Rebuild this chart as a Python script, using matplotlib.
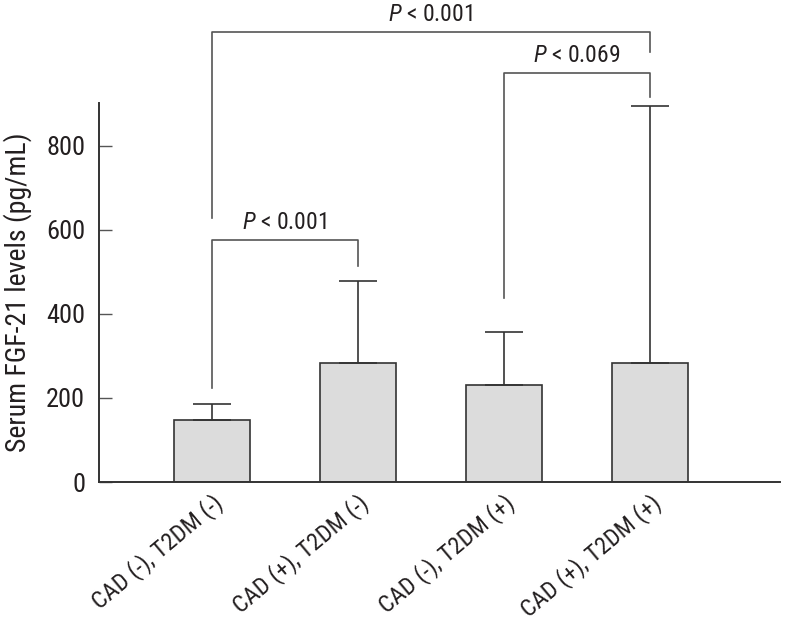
import matplotlib
matplotlib.use('Agg')
import matplotlib.pyplot as plt
import numpy as np

GROUPS = ["CAD (-), T2DM (-)", "CAD (+), T2DM (-)", "CAD (-), T2DM (+)", "CAD (+), T2DM (+)"]
MEANS = [148, 283, 231, 283]
SD = [38, 195, 126, 612]

# brackets: (left bar, right bar), bracket height, left/right leg ends, label
PAIRS = [(0, 1), (2, 3), (0, 3)]
TOPS = [576, 974, 1071]
LEFT_ENDS = [224, 438, 629]
RIGHT_ENDS = [514, 917, 1024]
P_LABELS = ["< 0.001", "< 0.069", "< 0.001"]

plt.rcParams['font.family'] = ['Roboto Condensed', 'DejaVu Sans']
plt.rcParams['mathtext.fontset'] = 'custom'
plt.rcParams['mathtext.it'] = 'Roboto Condensed:italic'
plt.rcParams['mathtext.rm'] = 'Roboto Condensed'

TXT = "#231f20"
LINE = "#555555"

fig = plt.figure(figsize=(7.92, 6.21), dpi=100)
ax = fig.add_axes([99 / 792, 139 / 621, 681 / 792, 379 / 621])

x = np.arange(len(GROUPS))
ax.bar(x, MEANS, width=0.52, color="#dcdcdc", edgecolor="#333333", linewidth=1.2,
       yerr=([0] * len(SD), SD), capsize=14,
       error_kw=dict(ecolor="#333333", elinewidth=1.2, capthick=1.2))

for (a, b), top, le, re, lab in zip(PAIRS, TOPS, LEFT_ENDS, RIGHT_ENDS, P_LABELS):
    ax.plot([a, a, b, b], [le, top, top, re], color=LINE, lw=1.2, clip_on=False)
    ax.annotate("$\\mathit{P}$ " + lab, xy=((a + b) / 2, top), xytext=(0, 4),
                textcoords="offset points", ha="center", va="bottom",
                fontsize=17, color=TXT, annotation_clip=False)

ax.set_xlim(-0.77, 3.89)
ax.set_ylim(0, 902)
ax.set_yticks([0, 200, 400, 600, 800])
ax.tick_params(axis='y', direction='in', length=9, width=1.0, color=LINE,
               labelsize=19, labelcolor=TXT, pad=10)
ax.set_xticks(x)
ax.set_xticklabels(GROUPS, rotation=40, ha='right', rotation_mode='anchor',
                   fontsize=17.5, color=TXT)
ax.tick_params(axis='x', length=0, pad=6)

ax.set_ylabel("Serum FGF-21 levels (pg/mL)", fontsize=20, color=TXT, labelpad=10)

for s in ['top', 'right']:
    ax.spines[s].set_visible(False)
for s in ['left', 'bottom']:
    ax.spines[s].set_color("#333333")
    ax.spines[s].set_linewidth(1.4)

fig.savefig("out.png", dpi=100)
